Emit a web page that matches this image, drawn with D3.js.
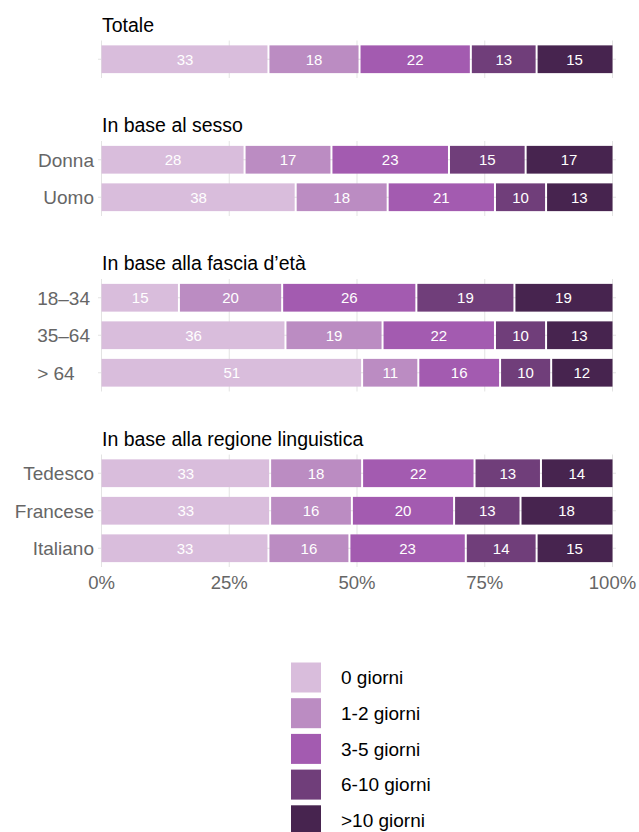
<!DOCTYPE html>
<html>
<head>
<meta charset="utf-8">
<script src="https://cdn.jsdelivr.net/npm/d3@7"></script>
<style>
  html, body { margin: 0; padding: 0; background: #fff; }
  svg { display: block; font-family: "Liberation Sans", Arial, Helvetica, sans-serif; }
</style>
</head>
<body>
<svg id="chart" width="639" height="832"></svg>
<script>
// ---- data ----
const seriesNames = ["0 giorni", "1-2 giorni", "3-5 giorni", "6-10 giorni", ">10 giorni"];
const seriesColors = ["#d9bddc", "#bb8cc2", "#a35bb0", "#703e7a", "#47244f"];
const panelTitles = ["Totale", "In base al sesso", "In base alla fascia d\u2019età", "In base alla regione linguistica"];
const panelRows = [
  ["Totale"],
  ["Donna", "Uomo"],
  ["18\u201334", "35\u201364", "> 64"],
  ["Tedesco", "Francese", "Italiano"]
];
const showRowLabel = [false, true, true, true];
const rowLabelAlign = ["end", "end", "start", "end"];
const values = {
  "Totale":   [33, 18, 22, 13, 15],
  "Donna":    [28, 17, 23, 15, 17],
  "Uomo":     [38, 18, 21, 10, 13],
  "18\u201334":  [15, 20, 26, 19, 19],
  "35\u201364":  [36, 19, 22, 10, 13],
  "> 64":     [51, 11, 16, 10, 12],
  "Tedesco":  [33, 18, 22, 13, 14],
  "Francese": [33, 16, 20, 13, 18],
  "Italiano": [33, 16, 23, 14, 15]
};
const tickValues = [0, 0.25, 0.5, 0.75, 1];
const tickLabels = ["0%", "25%", "50%", "75%", "100%"];

// ---- layout ----
const svg = d3.select("#chart");
const x = d3.scaleLinear().domain([0, 1]).range([101.5, 612.5]);
const step = 37.5, gap = 63, firstTop = 40.5;

let panelTop = firstTop;
panelRows.forEach((rows, pi) => {
  const h = rows.length * step;
  const y = d3.scaleBand().domain(rows).range([panelTop, panelTop + h]).paddingInner(0.26).paddingOuter(0.13);
  const g = svg.append("g");

  // vertical grid
  g.selectAll("line.vg").data(tickValues).join("line")
    .attr("x1", d => x(d)).attr("x2", d => x(d))
    .attr("y1", panelTop).attr("y2", panelTop + h)
    .attr("stroke", "#e3e3e3").attr("stroke-width", 1);
  // horizontal grid
  g.selectAll("line.hg").data(rows).join("line")
    .attr("x1", 98).attr("x2", 616)
    .attr("y1", d => y(d) + y.bandwidth() / 2).attr("y2", d => y(d) + y.bandwidth() / 2)
    .attr("stroke", "#e3e3e3").attr("stroke-width", 1);

  // title
  g.append("text").attr("x", 102).attr("y", panelTop - 9)
    .attr("font-size", 19.5).attr("fill", "#000").text(panelTitles[pi]);

  const labels = [];
  rows.forEach(r => {
    const vals = values[r];
    const total = d3.sum(vals);
    let cum = 0;
    const segs = vals.map((v, i) => { const s = { v, i, x0: cum / total, x1: (cum + v) / total }; cum += v; return s; });
    const rg = g.append("g");
    rg.selectAll("rect").data(segs).join("rect")
      .attr("x", d => x(d.x0) + (d.i === 0 ? 0 : 1))
      .attr("width", d => x(d.x1) - x(d.x0) - (d.i === 0 ? 1 : 2) + (d.i === 4 ? 1 : 0))
      .attr("y", y(r)).attr("height", y.bandwidth())
      .attr("fill", d => seriesColors[d.i]);
    rg.selectAll("text").data(segs).join("text")
      .attr("x", d => x((d.x0 + d.x1) / 2))
      .attr("y", y(r) + y.bandwidth() / 2)
      .attr("dy", "0.36em").attr("text-anchor", "middle")
      .attr("font-size", 15).attr("fill", "#fff")
      .text(d => d.v);
    if (showRowLabel[pi]) {
      labels.push(g.append("text").attr("x", 94).attr("y", y(r) + y.bandwidth() / 2)
        .attr("dy", "0.36em").attr("text-anchor", "end")
        .attr("font-size", 19).attr("fill", "#666").text(r));
    }
  });
  if (rowLabelAlign[pi] === "start" && labels.length) {
    const maxW = d3.max(labels, t => t.node().getComputedTextLength());
    labels.forEach(t => t.attr("text-anchor", "start").attr("x", 90 - maxW));
  }
  panelTop += h + (pi < panelRows.length - 1 ? gap : 0);
});

// x axis labels
svg.append("g").selectAll("text").data(tickValues).join("text")
  .attr("x", d => x(d)).attr("y", panelTop + 21.5)
  .attr("text-anchor", "middle").attr("font-size", 18.5).attr("fill", "#666")
  .text((d, i) => tickLabels[i]);

// legend
const lg = svg.append("g");
const ls = d3.scaleBand().domain(seriesNames).range([662.5, 841]).paddingInner(0);
seriesNames.forEach((n, i) => {
  lg.append("rect").attr("x", 291).attr("y", ls(n)).attr("width", 30).attr("height", 30)
    .attr("fill", seriesColors[i]);
  lg.append("text").attr("x", 341).attr("y", ls(n) + 15).attr("dy", "0.36em")
    .attr("font-size", 19).attr("fill", "#000").text(n);
});
</script>
</body>
</html>
